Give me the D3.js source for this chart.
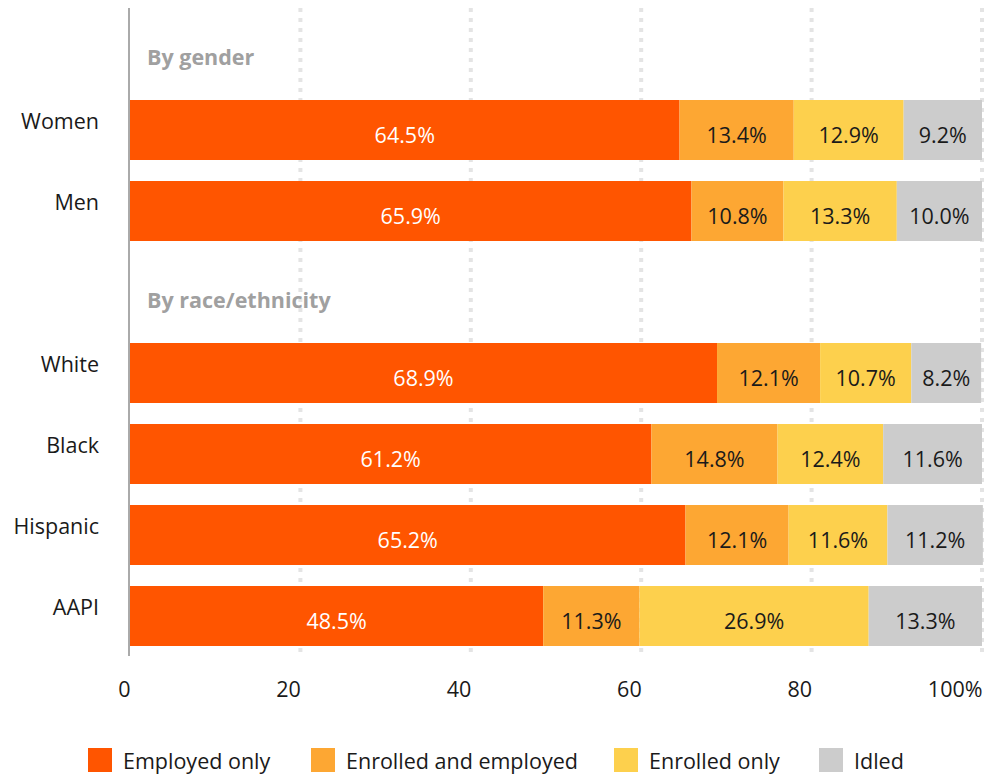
<!DOCTYPE html>
<html>
<head>
<meta charset="utf-8">
<script src="https://cdn.jsdelivr.net/npm/d3@7"></script>
<style>
  html, body { margin: 0; padding: 0; background: #fff; }
  svg { display: block; font-family: "Open Sans", "Lato", sans-serif; }
</style>
</head>
<body>
<svg id="chart" width="984" height="778"></svg>
<script>
// ---------------- DATA ----------------
const rows = ["hdrGender", "Women", "Men", "hdrRace", "White", "Black", "Hispanic", "AAPI"];
const headers = { hdrGender: "By gender", hdrRace: "By race/ethnicity" };
const categories = ["Women", "Men", "White", "Black", "Hispanic", "AAPI"];
const seriesNames = ["Employed only", "Enrolled and employed", "Enrolled only", "Idled"];
const employedOnly        = [64.5, 65.9, 68.9, 61.2, 65.2, 48.5];
const enrolledAndEmployed = [13.4, 10.8, 12.1, 14.8, 12.1, 11.3];
const enrolledOnly        = [12.9, 13.3, 10.7, 12.4, 11.6, 26.9];
const idled               = [9.2, 10.0, 8.2, 11.6, 11.2, 13.3];
const tickValues = [0, 20, 40, 60, 80, 100];
const tickLabels = ["0", "20", "40", "60", "80", "100%"];
const colors = ["#ff5500", "#fda733", "#fdd04d", "#cccccc"];

// ---------------- LAYOUT ----------------
const FONT = "'Open Sans', Lato, sans-serif";
const FS = 21.5;
const svg = d3.select("#chart");
const seriesValues = [employedOnly, enrolledAndEmployed, enrolledOnly, idled];
const table = categories.map((c, i) => {
  const o = { category: c };
  seriesNames.forEach((s, k) => o[s] = seriesValues[k][i]);
  return o;
});
const stacked = d3.stack().keys(seriesNames)(table);

const x = d3.scaleLinear().domain([0, 100]).range([130, 982]);
const y = d3.scaleBand().domain(rows).range([8.5, 656.5]).paddingInner(21 / 81).paddingOuter(21 / 162);

const gridTop = 8, gridBottom = 656;

// grid lines (dotted)
svg.append("g").selectAll("line")
  .data(tickValues.filter(v => v > 0))
  .join("line")
  .attr("x1", d => x(d)).attr("x2", d => x(d))
  .attr("y1", gridTop).attr("y2", gridBottom)
  .attr("stroke", "#e4e4e4").attr("stroke-width", 4)
  .attr("stroke-dasharray", "4,6");

// bars
const layers = svg.append("g").selectAll("g")
  .data(stacked).join("g")
  .attr("fill", (d, i) => colors[i]);
layers.selectAll("rect")
  .data(d => d)
  .join("rect")
  .attr("x", d => x(d[0]))
  .attr("width", d => x(d[1]) - x(d[0]))
  .attr("y", d => y(d.data.category))
  .attr("height", y.bandwidth());

// value labels
const labels = svg.append("g").attr("font-size", FS).attr("text-anchor", "middle");
stacked.forEach((layer, i) => {
  labels.selectAll(null)
    .data(layer).join("text")
    .attr("x", d => (x(d[0]) + x(d[1])) / 2)
    .attr("y", d => y(d.data.category) + 43)
    .attr("fill", i === 0 ? "#ffffff" : "#1a1a1a")
    .text(d => d3.format(".1f")(d[1] - d[0]) + "%");
});

// zero axis line
svg.append("line")
  .attr("x1", 129).attr("x2", 129)
  .attr("y1", gridTop).attr("y2", gridBottom)
  .attr("stroke", "#aaaaaa").attr("stroke-width", 2);

// category labels
svg.append("g").selectAll("text")
  .data(categories).join("text")
  .attr("x", 99)
  .attr("y", d => y(d) + 29)
  .attr("text-anchor", "end")
  .attr("font-size", FS)
  .attr("fill", "#1a1a1a")
  .text(d => d);

// group headers
svg.append("g").selectAll("text")
  .data(Object.keys(headers)).join("text")
  .attr("x", 147)
  .attr("y", d => y(d) + 46)
  .attr("font-size", 21.5)
  .attr("font-weight", "bold")
  .attr("fill", "#a0a0a0")
  .text(d => headers[d]);

// x axis
const xAxis = d3.axisBottom(x).tickValues(tickValues).tickSize(0)
  .tickFormat((d, i) => tickLabels[i]);
const ax = svg.append("g").attr("transform", "translate(0,678)").call(xAxis);
ax.select(".domain").remove();
ax.selectAll("text")
  .attr("font-family", FONT)
  .attr("font-size", FS)
  .attr("fill", "#1a1a1a")
  .attr("text-anchor", "end")
  .attr("dy", 0)
  .attr("y", 19);

// legend
const legendX = [88, 311, 614, 819];
const legend = svg.append("g").selectAll("g")
  .data(seriesNames).join("g")
  .attr("transform", (d, i) => `translate(${legendX[i]},748)`);
legend.append("rect").attr("width", 24).attr("height", 24)
  .attr("fill", (d, i) => colors[i]);
legend.append("text").attr("x", 35).attr("y", 21)
  .attr("font-size", FS).attr("fill", "#1a1a1a")
  .text(d => d);
</script>
</body>
</html>
